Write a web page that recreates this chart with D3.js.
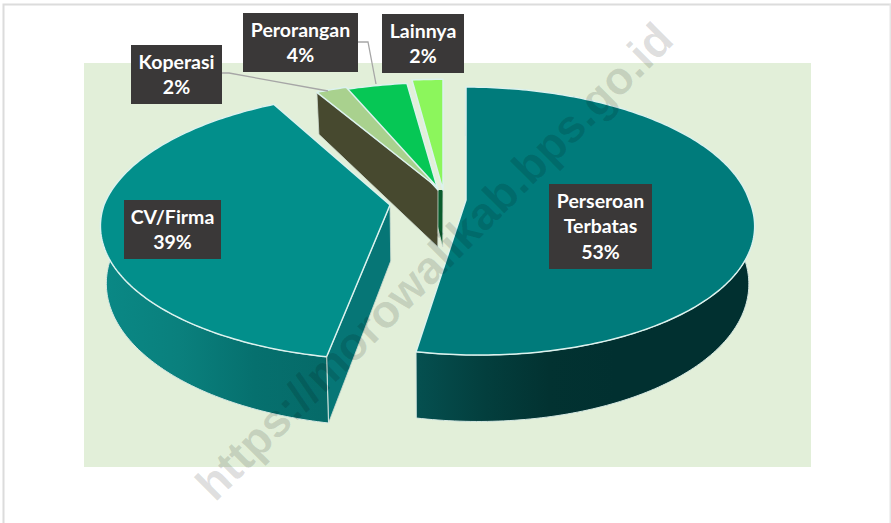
<!DOCTYPE html>
<html>
<head>
<meta charset="utf-8">
<script src="https://cdn.jsdelivr.net/npm/d3@7"></script>
<style>
  html, body { margin: 0; padding: 0; background: #fff; }
  svg { display: block; }
</style>
</head>
<body>
<div id="chart"></div>
<script>
const WIDTH = 891;
const HEIGHT = 523;

const categories = ["Perseroan Terbatas", "CV/Firma", "Koperasi", "Perorangan", "Lainnya"];
const shares = [53, 39, 2, 4, 2];

// how the slices look, same order as categories
const topColors = ["#007b7b", "#028f8b", "#a9d18e", "#06c755", "#8cf65c"];
const wallColors = [
    ["#055050", "#033f3e", "#023231", "#013030"],
    ["#0a8885", "#0a807d", "#06706e", "#056a68"],
];
const cutColors = ["#044a4a", "#067676", "#47492f", "#0a5c2c", "#0a5c2c"];

// exploded centre of each slice, and how it is bent to fit the perspective
const centers = [
    { x: 466, y: 200, lean: 0.084, leanBack: 0, rx: 0.99, ry: 1, thick: 56 },
    { x: 390, y: 205, lean: 0, leanBack: 0.05, rx: 1, ry: 1, thick: 56 },
    { x: 438, y: 188, lean: 0, leanBack: 0, rx: 1, ry: 0.95, thick: 59, sideH: 42 },
    { x: 438, y: 190, lean: 0, leanBack: 0, rx: 1, ry: 0.95, thick: 57 },
    { x: 443, y: 190, lean: 0, leanBack: 0, rx: 1, ry: 0.98, thick: 57 },
];
const labelBoxes = [
    { x: 549, y: 184, w: 103, h: 85 },
    { x: 124, y: 200, w: 97, h: 59 },
    { x: 131, y: 45, w: 91, h: 59 },
    { x: 243, y: 13, w: 115, h: 59 },
    { x: 382, y: 14, w: 82, h: 59 },
];
const leaders = [
    null,
    null,
    [[222, 73], [229, 73], [328, 91]],
    [[358, 42], [368, 42], [376, 84]],
    null,
];

// perspective ellipse
const RX = 286;
const RY = 130.7;
const PERSP = 0.157;
const VANISH_X = 430;
const BOTTOM_SCALE = 0.982;

const svg = d3.select("#chart").append("svg")
    .attr("width", WIDTH)
    .attr("height", HEIGHT);

const defs = svg.append("defs");

svg.append("rect")
    .attr("x", 3.5).attr("y", 4.5)
    .attr("width", WIDTH + 10).attr("height", HEIGHT + 10)
    .attr("fill", "#fff")
    .attr("stroke", "#dcdcdc")
    .attr("stroke-width", 2);
svg.append("rect")
    .attr("x", 889.5).attr("y", 4)
    .attr("width", 1.5).attr("height", HEIGHT)
    .attr("fill", "#e6e6e6");

svg.append("rect")
    .attr("x", 84).attr("y", 63)
    .attr("width", 727).attr("height", 404)
    .attr("fill", "#e2efd9");

const pie = d3.pie().sort(null)(shares);

function topPoint(i, a) {
    const c = centers[i];
    const d = Math.cos(a);
    const w = 1 + PERSP * d;
    const dy = -RY * c.ry * d / w;
    const bend = c.lean * Math.max(0, dy) + c.leanBack * Math.max(0, -dy);
    return [c.x + RX * c.rx * Math.sin(a) / w + bend, c.y + dy];
}

function bottomPoint(i, a) {
    const p = topPoint(i, a);
    const h = centers[i].thick / (1 + PERSP * Math.cos(a));
    return [VANISH_X + (p[0] - VANISH_X) * BOTTOM_SCALE, p[1] + h];
}

function angles(s) {
    const n = Math.max(4, Math.round((s.endAngle - s.startAngle) * 60));
    return d3.range(n + 1).map(k => s.startAngle + (s.endAngle - s.startAngle) * k / n);
}

const line = d3.line();

function centerBottom(i) {
    const c = centers[i];
    return [VANISH_X + (c.x - VANISH_X) * BOTTOM_SCALE, c.y + c.thick];
}

// the cut face on the start side of a slice
function drawCut(i, clipped) {
    const c = centers[i];
    const sideTop = topPoint(i, pie[i].startAngle);
    const sideBottom = bottomPoint(i, pie[i].startAngle);
    if (c.sideH) sideBottom[1] = sideTop[1] + c.sideH;
    const path = svg.append("path")
        .attr("d", line([[c.x, c.y], sideTop, sideBottom, centerBottom(i)]) + "Z")
        .attr("fill", cutColors[i])
        .attr("stroke", "#cfdcd2")
        .attr("stroke-width", 0.8);
    if (clipped) path.attr("clip-path", "url(#belowApex)");
}

// the big slices also show the curved outside wall
function drawOuter(i) {
    const s = pie[i];
    const c = centers[i];
    const as = angles(s);
    const gradId = "wall" + i;
    const grad = defs.append("linearGradient")
        .attr("id", gradId)
        .attr("gradientUnits", "userSpaceOnUse")
        .attr("x1", i === 0 ? c.x - 50 : c.x - RX)
        .attr("x2", i === 0 ? c.x + 150 : c.x - 60)
        .attr("y1", 0).attr("y2", 0);
    wallColors[i].forEach((col, k) => {
        grad.append("stop").attr("offset", k / 3).attr("stop-color", col);
    });
    const outer = as.map(a => topPoint(i, a)).concat(as.slice().reverse().map(a => bottomPoint(i, a)));
    svg.append("path")
        .attr("d", line(outer) + "Z")
        .attr("fill", `url(#${gradId})`)
        .attr("stroke", "#d5e8e2")
        .attr("stroke-width", 1);
}

function drawTop(i) {
    const c = centers[i];
    const pts = [[c.x, c.y]].concat(angles(pie[i]).map(a => topPoint(i, a)));
    svg.append("path")
        .attr("d", line(pts) + "Z")
        .attr("fill", topColors[i])
        .attr("stroke", "#dcf2ee")
        .attr("stroke-width", 1.5)
        .attr("stroke-linejoin", "round");
}

defs.append("clipPath").attr("id", "belowApex")
    .append("rect")
    .attr("x", 0).attr("y", centers[4].y)
    .attr("width", WIDTH).attr("height", HEIGHT);

// back slices first
drawCut(4, true);
drawCut(2, false);
[4, 3, 2].forEach(drawTop);

// start side of CV/Firma faces the viewer
drawCut(1, false);

[0, 1].forEach(i => { drawOuter(i); drawTop(i); });

leaders.forEach(pts => {
    if (!pts) return;
    svg.append("path")
        .attr("d", line(pts))
        .attr("fill", "none")
        .attr("stroke", "#a6a6a6")
        .attr("stroke-width", 1.3);
});

categories.forEach((name, i) => {
    const b = labelBoxes[i];
    const lines = (name.length > 12 ? name.split(" ") : [name]).concat(shares[i] + "%");
    const g = svg.append("g");
    g.append("rect")
        .attr("x", b.x).attr("y", b.y)
        .attr("width", b.w).attr("height", b.h)
        .attr("fill", "#3a3838");
    lines.forEach((t, k) => {
        g.append("text")
            .attr("x", b.x + b.w / 2)
            .attr("y", b.y + 24 + k * 25.3)
            .attr("text-anchor", "middle")
            .attr("fill", "#fff")
            .style("font-family", "Lato, 'Open Sans', sans-serif")
            .style("font-weight", 700)
            .style("font-size", "19.5px")
            .text(t);
    });
});

// site watermark across the page
svg.append("text")
    .attr("transform", "translate(215,503) rotate(-45)")
    .attr("fill", "#000")
    .attr("fill-opacity", 0.13)
    .style("font-family", "'Liberation Sans', Arial, sans-serif")
    .style("font-weight", 700)
    .style("font-size", "46px")
    .text("https://morowalikab.bps.go.id");
</script>
</body>
</html>
